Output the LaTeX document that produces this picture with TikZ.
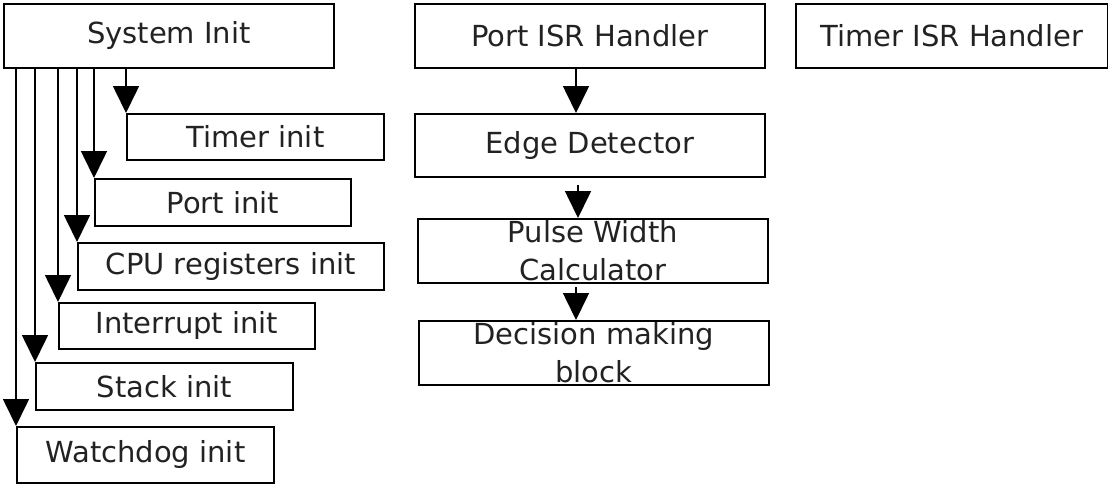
\documentclass[tikz,border=0pt]{standalone}
\usepackage{fontspec}
\setmainfont{DejaVu Sans}
\usetikzlibrary{arrows.meta}
\definecolor{ink}{HTML}{222222}
\tikzset{
  blk/.style={draw=black, line width=1.8pt, anchor=north west, inner sep=0pt,
    text=ink, font=\fontsize{29pt}{38pt}\selectfont, align=center},
  flow/.style={line width=1.6pt, -{Triangle[width=26pt,length=27pt]}}
}
\begin{document}
\begin{tikzpicture}[x=1pt, y=-1pt]
\useasboundingbox (0,0) rectangle (1108,483);

% initialisation sequence
\node[blk, minimum width=330pt, minimum height=64pt] (sys) at (3,3) {System Init};
\node[blk, minimum width=257pt, minimum height=46pt] (tim) at (126,113) {Timer init};
\node[blk, minimum width=256pt, minimum height=47pt] (port) at (94,178) {Port init};
\node[blk, minimum width=306pt, minimum height=47pt] (cpu) at (77,242) {CPU registers init};
\node[blk, minimum width=256pt, minimum height=46pt] (intr) at (58,302) {Interrupt init};
\node[blk, minimum width=257pt, minimum height=47pt] (stk) at (35,362) {Stack init};
\node[blk, minimum width=257pt, minimum height=56pt] (wd) at (16,426) {Watchdog init};

\foreach \n in {tim,port,cpu,intr,stk,wd}
  \draw[flow] (sys.south west -| \n.north west) -- (\n.north west);

% port interrupt chain
\node[blk, minimum width=350pt, minimum height=64pt] (pisr) at (414,3) {Port ISR Handler};
\node[blk, minimum width=350pt, minimum height=63pt] (edge) at (414,113) {Edge Detector};
\node[blk, minimum width=350pt, minimum height=64pt, text width=350pt] (pwc) at (417,218) {Pulse Width\\Calculator};
\node[blk, minimum width=350pt, minimum height=64pt, text width=350pt] (dmb) at (418,320) {Decision making\\block};

\draw[flow] ([xshift=162pt]pisr.south west) -- ([xshift=162pt]pisr.south west |- edge.north);
\draw[flow] ([xshift=164pt,yshift=-7pt]edge.south west) -- ([xshift=164pt]edge.south west |- pwc.north);
\draw[flow] ([xshift=159pt,yshift=-3pt]pwc.south west) -- ([xshift=159pt]pwc.south west |- dmb.north);

% timer interrupt
\node[blk, minimum width=312pt, minimum height=64pt] (tisr) at (795,3) {Timer ISR Handler};
\end{tikzpicture}
\end{document}
